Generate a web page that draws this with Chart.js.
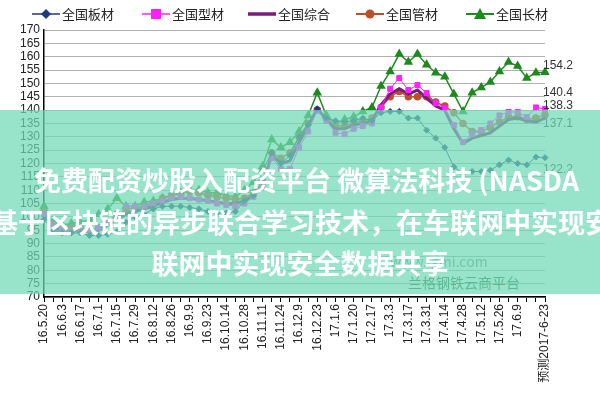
<!DOCTYPE html>
<html><head><meta charset="utf-8">
<script src="https://cdn.jsdelivr.net/npm/chart.js@4"></script>
<style>html,body{margin:0;padding:0;background:#fff}</style>
</head><body><canvas id="c" width="600" height="400"></canvas>
<script>
const tickLabels = ['16.5.20','','16.6.3','','16.6.17','','16.7.1','','16.7.15','','16.7.29','','16.8.12','','16.8.26','','16.9.9','','16.9.23','','16.10.14','','16.10.28','','16.11.11','','16.11.24','','16.12.9','','16.12.23','','17.1.6','','17.1.20','','17.2.17','','17.3.3','','17.3.17','','17.3.31','','17.4.14','','17.4.28','','17.5.12','','17.5.26','','17.6.9','','','预测2017-6-23'];
const seriesNames = ['全国板材','全国型材','全国综合','全国管材','全国长材'];
const plate = [99,95,94,94,94,93,93,93.5,94.5,98,100,101,103,104,104,104,103.5,103,102,101.5,101.5,102,106,108,117.5,124,120,123,130,134.5,140.5,137,136,135.5,136,137,136,139,139.5,139.5,137,137,132.5,129.5,126,118.7,116.3,117,117,117.5,119.5,121.3,120,119.5,122.4,122.2];
const section = [101,97,95,95,95.5,95,96,98,100,104,104,104,105,106,107,107.5,107,106.5,106,105,104.5,104,105,107.5,111,122,118,118,126,132,140,136,131.5,131,133,134,135,141,148,152,147.5,149.4,146.4,142.6,140.8,134.4,128,131,132.5,135,138,139.3,139.3,137.4,141,140.4];
const composite = [101,96,95,95,95,94.5,95,97,99,101,102,103,104,105.5,106.5,107,107,106.5,106,105.5,105,105,106,108,112,123,120,121,128,134,140.5,136.5,133,133,134.5,135,136,142,146,148,146,147.5,144.5,141.5,140,133,127.5,129.5,130.5,131.5,134,136.5,137,136,135.5,137.1];
const pipe = [102,97,96,96,96,95,96,98,101,102,103,104,105,107,108,109,109.5,109,108,107.5,107,106.5,107,109,113,124,122,124,130,135,140,137,134,134,135.5,136,137,141,145,147,145,145,145,143,141.5,139,135,132,132,133.5,135.5,137.5,137.5,136.5,137,138.3];
const longp = [104,98,97,97.5,98,99,101,103,107,104,104,105.5,106,107,108,109,110,110,109,109,108,107.5,110,113,119,129,126,128,132,138,146.5,138,135,136.5,137.5,139.5,141,149,154.5,161,158,161,157,154,152.5,146,139.5,146.5,148.5,150.5,154.5,158,156.5,152,154,154.2];
const yTicks = [70,75,80,85,90,95,100,105,110,115,120,125,130,135,140,145,150,155,160,165,170];
const endLabels = ['122.2','140.4','137.1','138.3','154.2'];

const cols = ['#1f3a7a','#ff20ff','#7a1a7a','#b8502a','#1e8a1e'];
const styles = ['rectRot','rect',false,'circle','triangle'];
const rads = [3,3.5,0,3,4];
const widths = [1,1,3,1.5,1.5];
const vals = [plate,section,composite,pipe,longp];
const FONT = '"Liberation Sans Narrow","Liberation Sans",sans-serif';

const overlay = {
  id:'overlay',
  afterDraw(ch){
    const c=ch.ctx; c.save();
    c.font='12px '+FONT; c.fillStyle='#333'; c.textAlign='left'; c.textBaseline='middle';
    const xs=ch.scales.x, ys=ch.scales.y;
    const off=[12,-16,6,-9,-6];
    vals.forEach((v,i)=>{c.fillText(endLabels[i], xs.getPixelForValue(v.length-1)-2, ys.getPixelForValue(v[v.length-1])+off[i]);});
    c.font='13px "Noto Sans CJK SC"';c.textBaseline='middle';
    const lx=[32,142,248,356,466];
    seriesNames.forEach((n,i)=>{
      const y=14;c.strokeStyle=cols[i];c.lineWidth=widths[i]+0.5;
      c.beginPath();c.moveTo(lx[i],y);c.lineTo(lx[i]+28,y);c.stroke();
      c.fillStyle=cols[i];const mx=lx[i]+14;
      if(i===0){c.beginPath();c.moveTo(mx,y-5);c.lineTo(mx+5,y);c.lineTo(mx,y+5);c.lineTo(mx-5,y);c.fill();}
      if(i===1){c.fillRect(mx-5,y-5,10,10);}
      if(i===3){c.beginPath();c.arc(mx,y,4.5,0,7);c.fill();}
      if(i===4){c.beginPath();c.moveTo(mx,y-6);c.lineTo(mx+6,y+5);c.lineTo(mx-6,y+5);c.fill();}
      c.fillStyle='#222';c.fillText(n,lx[i]+30,y);
    });
    c.font='14px "Noto Sans CJK SC"';c.fillStyle='#7a8a80';c.fillText('www.lgmi.com',390,262);
    c.fillStyle='#1e6a40';c.fillText('兰格钢铁云商平台',408,283);
    c.fillStyle='rgba(112,218,182,0.72)';c.fillRect(0,110,600,184);
    c.fillStyle='#fff';c.font='bold 27px "Noto Sans CJK SC"';c.textAlign='left';
    c.fillText('免费配资炒股入配资平台 微算法科技 (NASDA',34,181);
    c.fillText('）基于区块链的异步联合学习技术，在车联网中实现安全',-36,223);
    c.textAlign='center';c.fillText('联网中实现安全数据共享',300,264);
    c.restore();
  }
};

new Chart(document.getElementById('c'),{
  type:'line',
  data:{labels:tickLabels,datasets:seriesNames.map((n,i)=>({label:n,data:vals[i],borderColor:cols[i],backgroundColor:cols[i],borderWidth:widths[i],pointStyle:styles[i]||'circle',pointRadius:rads[i],tension:0}))},
  options:{responsive:false,animation:false,devicePixelRatio:1,
    layout:{padding:{top:30,right:55,left:4,bottom:0}},
    plugins:{legend:{display:false},tooltip:{enabled:false}},
    scales:{
      x:{grid:{drawOnChartArea:false,color:'#000',tickLength:5},border:{color:'#000',width:1.5},
         ticks:{autoSkip:false,maxRotation:90,minRotation:90,color:'#222',font:{family:'"Liberation Sans","Noto Sans CJK SC"',size:12},padding:2},
         afterFit(s){s.height=103;}},
      y:{min:70,max:170,afterBuildTicks(s){s.ticks=yTicks.map(v=>({value:v}));},
         grid:{color:'#b0b0b0',borderDash:[2,4],drawTicks:false},border:{color:'#000',width:1.5},
         ticks:{autoSkip:false,color:'#222',font:{family:FONT,size:12},padding:4},
         afterFit(s){s.width=40;}}
    }},
  plugins:[overlay]
});
</script></body></html>
